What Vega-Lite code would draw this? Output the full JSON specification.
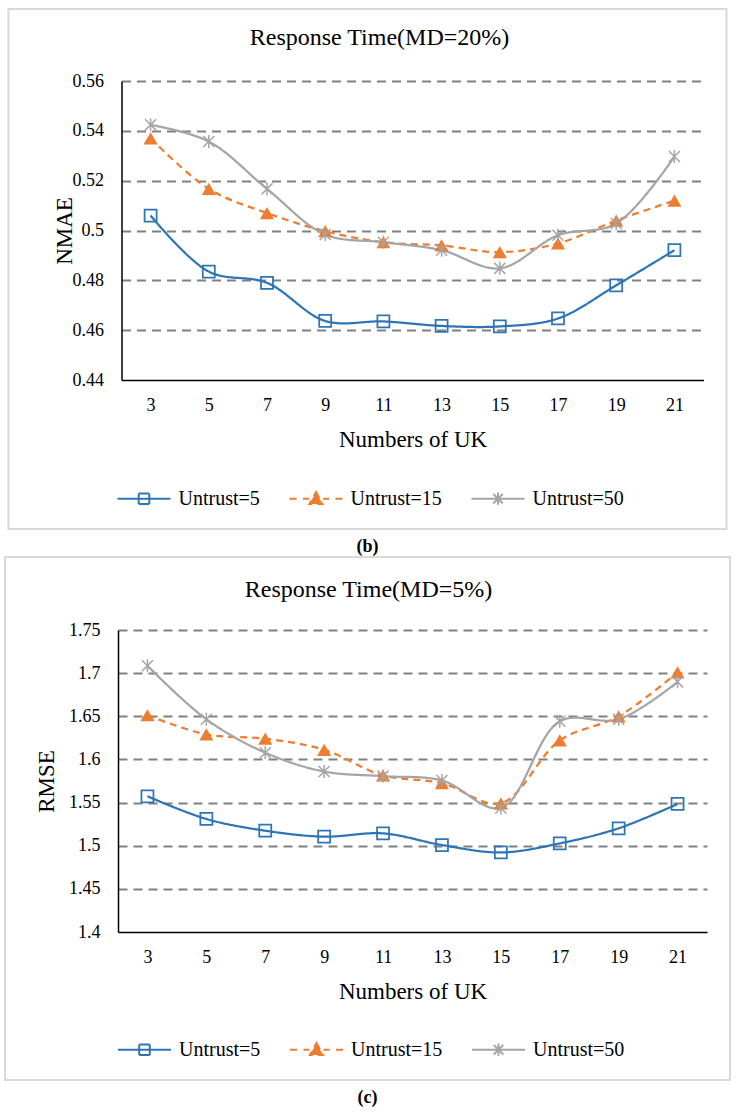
{
  "$schema": "https://vega.github.io/schema/vega-lite/v6.json",
  "background": "white",
  "padding": {"left": 4, "top": 8, "right": 0, "bottom": 0},
  "spacing": 0,
  "center": true,
  "resolve": {"scale": {"color": "independent", "strokeDash": "independent"}, "legend": {"color": "independent"}},
  "datasets": {
    "nmae": [
      {"uk": 3, "series": "Untrust=5", "v": 0.506},
      {"uk": 5, "series": "Untrust=5", "v": 0.4835},
      {"uk": 7, "series": "Untrust=5", "v": 0.479},
      {"uk": 9, "series": "Untrust=5", "v": 0.4637},
      {"uk": 11, "series": "Untrust=5", "v": 0.4635},
      {"uk": 13, "series": "Untrust=5", "v": 0.4617},
      {"uk": 15, "series": "Untrust=5", "v": 0.4615},
      {"uk": 17, "series": "Untrust=5", "v": 0.4647},
      {"uk": 19, "series": "Untrust=5", "v": 0.478},
      {"uk": 21, "series": "Untrust=5", "v": 0.4921},
      {"uk": 3, "series": "Untrust=15", "v": 0.537},
      {"uk": 5, "series": "Untrust=15", "v": 0.5167},
      {"uk": 7, "series": "Untrust=15", "v": 0.507},
      {"uk": 9, "series": "Untrust=15", "v": 0.4997},
      {"uk": 11, "series": "Untrust=15", "v": 0.4953},
      {"uk": 13, "series": "Untrust=15", "v": 0.494},
      {"uk": 15, "series": "Untrust=15", "v": 0.4913},
      {"uk": 17, "series": "Untrust=15", "v": 0.4948},
      {"uk": 19, "series": "Untrust=15", "v": 0.504},
      {"uk": 21, "series": "Untrust=15", "v": 0.512},
      {"uk": 3, "series": "Untrust=50", "v": 0.5424},
      {"uk": 5, "series": "Untrust=50", "v": 0.5357},
      {"uk": 7, "series": "Untrust=50", "v": 0.5167},
      {"uk": 9, "series": "Untrust=50", "v": 0.4984},
      {"uk": 11, "series": "Untrust=50", "v": 0.4953},
      {"uk": 13, "series": "Untrust=50", "v": 0.4921},
      {"uk": 15, "series": "Untrust=50", "v": 0.4848},
      {"uk": 17, "series": "Untrust=50", "v": 0.4981},
      {"uk": 19, "series": "Untrust=50", "v": 0.5028},
      {"uk": 21, "series": "Untrust=50", "v": 0.5297}
    ],
    "rmse": [
      {"uk": 3, "series": "Untrust=5", "v": 1.5573},
      {"uk": 5, "series": "Untrust=5", "v": 1.531},
      {"uk": 7, "series": "Untrust=5", "v": 1.5174},
      {"uk": 9, "series": "Untrust=5", "v": 1.5105},
      {"uk": 11, "series": "Untrust=5", "v": 1.5143},
      {"uk": 13, "series": "Untrust=5", "v": 1.5008},
      {"uk": 15, "series": "Untrust=5", "v": 1.4922},
      {"uk": 17, "series": "Untrust=5", "v": 1.5027},
      {"uk": 19, "series": "Untrust=5", "v": 1.5202},
      {"uk": 21, "series": "Untrust=5", "v": 1.5484},
      {"uk": 3, "series": "Untrust=15", "v": 1.6512},
      {"uk": 5, "series": "Untrust=15", "v": 1.629},
      {"uk": 7, "series": "Untrust=15", "v": 1.624},
      {"uk": 9, "series": "Untrust=15", "v": 1.6112},
      {"uk": 11, "series": "Untrust=15", "v": 1.5814},
      {"uk": 13, "series": "Untrust=15", "v": 1.5725},
      {"uk": 15, "series": "Untrust=15", "v": 1.5492},
      {"uk": 17, "series": "Untrust=15", "v": 1.6221},
      {"uk": 19, "series": "Untrust=15", "v": 1.65},
      {"uk": 21, "series": "Untrust=15", "v": 1.7008},
      {"uk": 3, "series": "Untrust=50", "v": 1.7085},
      {"uk": 5, "series": "Untrust=50", "v": 1.6465},
      {"uk": 7, "series": "Untrust=50", "v": 1.6078},
      {"uk": 9, "series": "Untrust=50", "v": 1.586},
      {"uk": 11, "series": "Untrust=50", "v": 1.5806},
      {"uk": 13, "series": "Untrust=50", "v": 1.5756},
      {"uk": 15, "series": "Untrust=50", "v": 1.5438},
      {"uk": 17, "series": "Untrust=50", "v": 1.6442},
      {"uk": 19, "series": "Untrust=50", "v": 1.6465},
      {"uk": 21, "series": "Untrust=50", "v": 1.6899}
    ]
  },
  "vconcat": [
    {
      "title": {"text": "(b)", "orient": "bottom", "anchor": "middle", "frame": "bounds", "fontSize": 18, "fontWeight": "bold", "offset": 8},
      "resolve": {"scale": {"color": "independent", "strokeDash": "independent"}, "legend": {"color": "independent"}},
      "vconcat": [
        {
          "width": 718,
          "height": 520,
          "data": {"name": "nmae"},
          "title": {"text": "Response Time(MD=20%)", "anchor": "middle", "frame": "group", "offset": -41, "fontSize": 24, "fontWeight": "normal", "dx": 12},
          "encoding": {
            "x": {"field": "uk", "type": "ordinal", "sort": "ascending",
              "scale": {"type": "point", "range": [113, 695], "padding": 0.5},
              "axis": {"title": "Numbers of UK", "offset": -149, "labelAngle": 0}},
            "y": {"field": "v", "type": "quantitative",
              "scale": {"domain": [0.44, 0.56], "range": [371, 72], "nice": false, "zero": false},
              "axis": {"title": "NMAE", "offset": -113, "titlePadding": -4, "values": [0.44, 0.46, 0.48, 0.5, 0.52, 0.54, 0.56], "format": "~g",
                "gridOpacity": {"condition": {"test": "datum.value < 0.445", "value": 0}, "value": 1}}},
            "color": {"field": "series", "type": "nominal",
              "scale": {"domain": ["Untrust=5", "Untrust=15", "Untrust=50"], "range": ["#2E75B6", "#ED7D31", "#A5A5A5"]},
              "legend": {"orient": "none", "legendX": 108, "legendY": 462, "direction": "horizontal", "title": null,
                "symbolSize": 2809, "symbolStrokeWidth": 2, "labelFontSize": 20, "labelOffset": 7, "columnPadding": 25, "padding": 0,
                "labelColor": "black", "labelFont": "Liberation Serif", "labelLimit": 0,
                "encode": {"symbols": {"update": {
                  "shape": {"signal": "datum.value === 'Untrust=5' ? 'M-1,0H1M-0.2,-0.2H0.2M0.2,-0.2V0.2M0.2,0.2H-0.2M-0.2,0.2V-0.2' : datum.value === 'Untrust=15' ? 'M-1,0H-0.736M-0.49,0H-0.264M0.264,0H0.49M0.736,0H1M0,-0.25L0.25,0.2L-0.25,0.2Z' : 'M-1,0H1M-0.18,-0.18L0.18,0.18M-0.18,0.18L0.18,-0.18M0,-0.23V0.23'"},
                  "fill": {"signal": "datum.value === 'Untrust=15' ? '#ED7D31' : 'transparent'"},
                  "strokeDash": {"value": [1, 0]},
                  "opacity": {"value": 1}}}}}}
          },
          "layer": [
            {"mark": {"type": "line", "interpolate": "catmull-rom", "strokeWidth": 2.25},
              "encoding": {"strokeDash": {"field": "series", "type": "nominal", "scale": {"domain": ["Untrust=5", "Untrust=15", "Untrust=50"], "range": [[1, 0], [7, 5], [1, 0]]}, "legend": null}}},
            {"transform": [{"filter": "datum.series === 'Untrust=5'"}],
              "mark": {"type": "point", "shape": "square", "filled": false, "size": 144, "strokeWidth": 1.75, "opacity": 1}},
            {"transform": [{"filter": "datum.series === 'Untrust=15'"}],
              "mark": {"type": "point", "shape": "triangle-up", "filled": true, "size": 200, "opacity": 1}},
            {"transform": [{"filter": "datum.series === 'Untrust=50'"}],
              "mark": {"type": "point", "shape": "M-0.85,-0.85L0.85,0.85M-0.85,0.85L0.85,-0.85M0,-1V1", "filled": false, "size": 169, "strokeWidth": 1.5, "opacity": 1}}
          ]
        }
      ]
    },
    {
      "title": {"text": "(c)", "orient": "bottom", "anchor": "middle", "frame": "bounds", "fontSize": 18, "fontWeight": "bold", "offset": 8},
      "resolve": {"scale": {"color": "independent", "strokeDash": "independent"}, "legend": {"color": "independent"}},
      "vconcat": [
        {
          "width": 725,
          "height": 523,
          "data": {"name": "rmse"},
          "title": {"text": "Response Time(MD=5%)", "anchor": "middle", "frame": "group", "offset": -45, "fontSize": 24, "fontWeight": "normal", "dx": 1},
          "encoding": {
            "x": {"field": "uk", "type": "ordinal", "sort": "ascending",
              "scale": {"type": "point", "range": [113, 702], "padding": 0.5},
              "axis": {"title": "Numbers of UK", "offset": -148, "labelAngle": 0}},
            "y": {"field": "v", "type": "quantitative",
              "scale": {"domain": [1.4, 1.75], "range": [375, 73], "nice": false, "zero": false},
              "axis": {"title": "RMSE", "offset": -113, "titlePadding": 10, "values": [1.4, 1.45, 1.5, 1.55, 1.6, 1.65, 1.7, 1.75], "format": "~g",
                "gridOpacity": {"condition": {"test": "datum.value < 1.405", "value": 0}, "value": 1}}},
            "color": {"field": "series", "type": "nominal",
              "scale": {"domain": ["Untrust=5", "Untrust=15", "Untrust=50"], "range": ["#2E75B6", "#ED7D31", "#A5A5A5"]},
              "legend": {"orient": "none", "legendX": 112, "legendY": 465, "direction": "horizontal", "title": null,
                "symbolSize": 2809, "symbolStrokeWidth": 2, "labelFontSize": 20, "labelOffset": 7, "columnPadding": 25, "padding": 0,
                "labelColor": "black", "labelFont": "Liberation Serif", "labelLimit": 0,
                "encode": {"symbols": {"update": {
                  "shape": {"signal": "datum.value === 'Untrust=5' ? 'M-1,0H1M-0.2,-0.2H0.2M0.2,-0.2V0.2M0.2,0.2H-0.2M-0.2,0.2V-0.2' : datum.value === 'Untrust=15' ? 'M-1,0H-0.736M-0.49,0H-0.264M0.264,0H0.49M0.736,0H1M0,-0.25L0.25,0.2L-0.25,0.2Z' : 'M-1,0H1M-0.18,-0.18L0.18,0.18M-0.18,0.18L0.18,-0.18M0,-0.23V0.23'"},
                  "fill": {"signal": "datum.value === 'Untrust=15' ? '#ED7D31' : 'transparent'"},
                  "strokeDash": {"value": [1, 0]},
                  "opacity": {"value": 1}}}}}}
          },
          "layer": [
            {"mark": {"type": "line", "interpolate": "catmull-rom", "strokeWidth": 2.25},
              "encoding": {"strokeDash": {"field": "series", "type": "nominal", "scale": {"domain": ["Untrust=5", "Untrust=15", "Untrust=50"], "range": [[1, 0], [7, 5], [1, 0]]}, "legend": null}}},
            {"transform": [{"filter": "datum.series === 'Untrust=5'"}],
              "mark": {"type": "point", "shape": "square", "filled": false, "size": 144, "strokeWidth": 1.75, "opacity": 1}},
            {"transform": [{"filter": "datum.series === 'Untrust=15'"}],
              "mark": {"type": "point", "shape": "triangle-up", "filled": true, "size": 200, "opacity": 1}},
            {"transform": [{"filter": "datum.series === 'Untrust=50'"}],
              "mark": {"type": "point", "shape": "M-0.85,-0.85L0.85,0.85M-0.85,0.85L0.85,-0.85M0,-1V1", "filled": false, "size": 169, "strokeWidth": 1.5, "opacity": 1}}
          ]
        }
      ]
    }
  ],
  "config": {
    "font": "Liberation Serif",
    "view": {"stroke": "#d9d9d9", "strokeWidth": 2},
    "axis": {"domainColor": "black", "domainWidth": 1.5, "ticks": false, "tickSize": 0, "labelColor": "black", "labelFontSize": 18, "titleFontSize": 23, "titleFontWeight": "normal", "titleColor": "black", "labelFont": "Liberation Serif", "titleFont": "Liberation Serif"},
    "axisX": {"grid": false, "labelPadding": 16, "titlePadding": 14},
    "axisY": {"grid": true, "gridColor": "#808080", "gridDash": [9, 6], "gridWidth": 2, "labelPadding": 18, "titlePadding": 8}
  }
}
